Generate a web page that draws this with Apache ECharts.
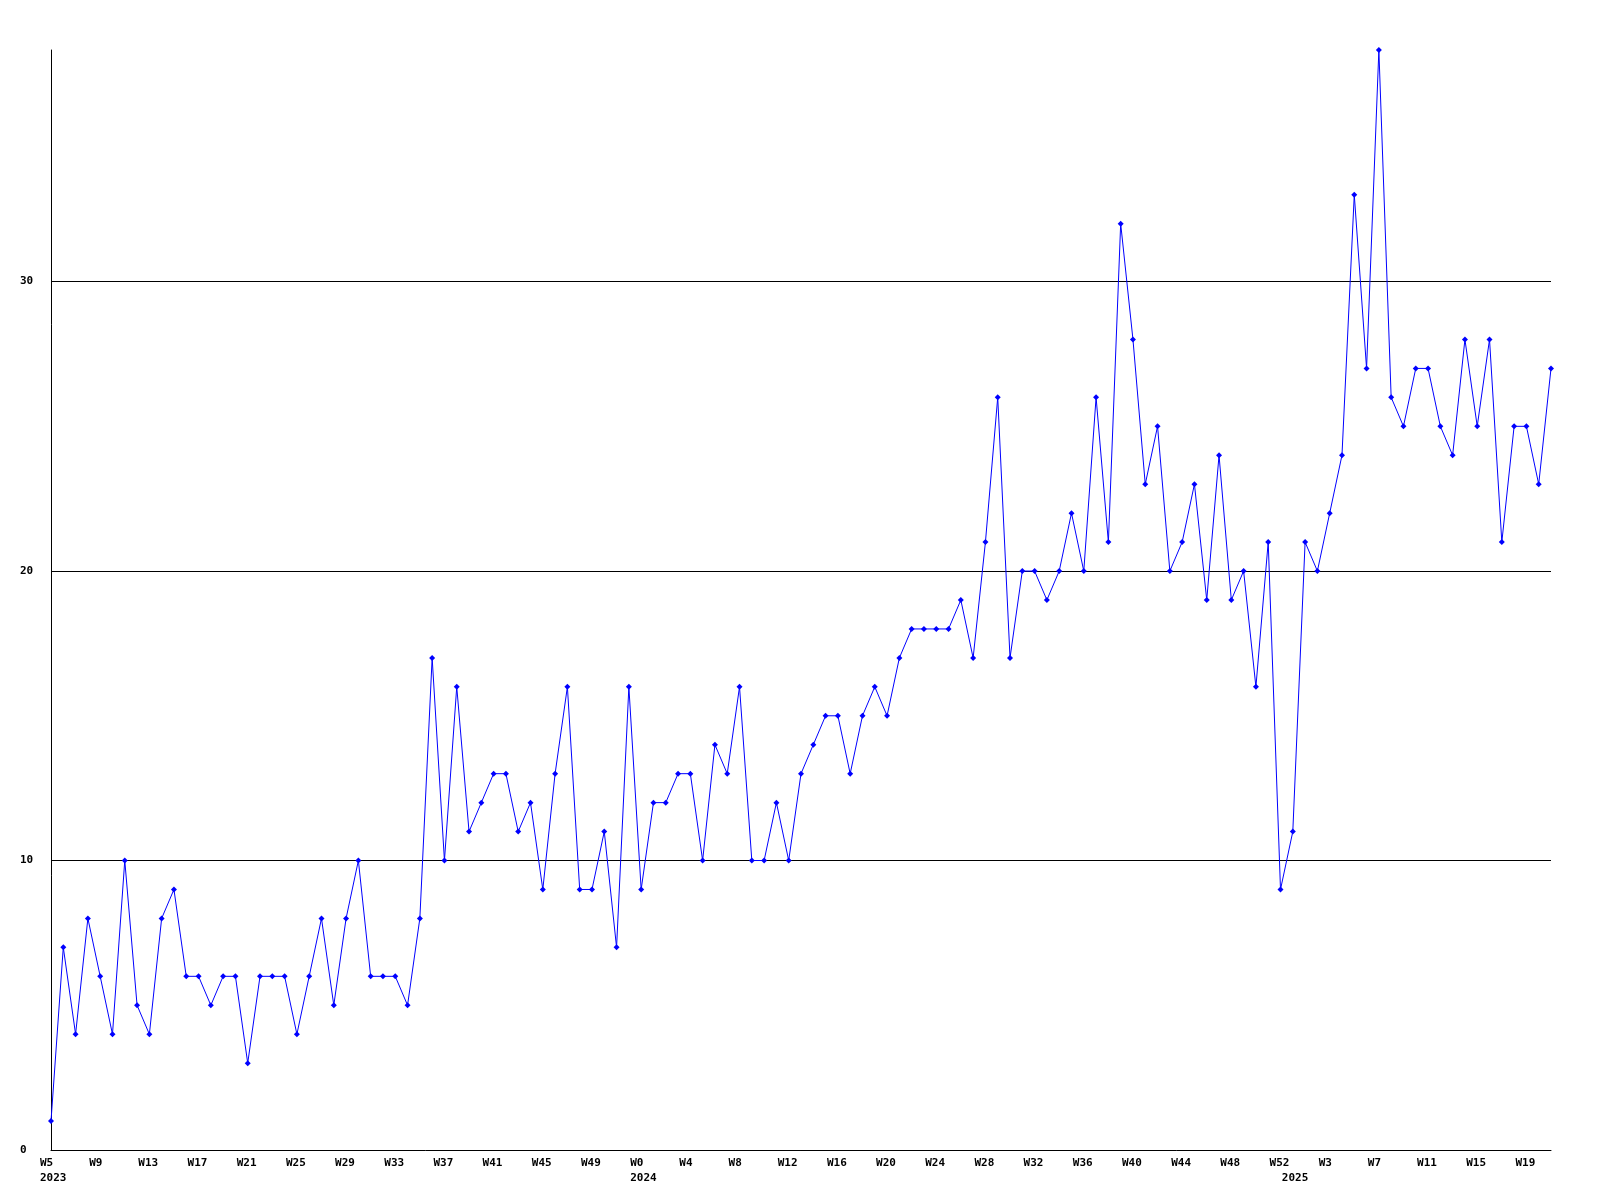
<!DOCTYPE html>
<html><head><meta charset="utf-8">
<script src="https://cdn.jsdelivr.net/npm/echarts@6/dist/echarts.min.js"></script>
<style>html,body{margin:0;padding:0;background:#fff}#c{width:1600px;height:1200px}</style>
</head><body><div id="c"></div>
<script>
const years = ['2023', '2024', '2025'];
const weeks2023 = ['W5','W6','W7','W8','W9','W10','W11','W12','W13','W14','W15','W16','W17','W18','W19','W20','W21','W22','W23','W24','W25','W26','W27','W28','W29','W30','W31','W32','W33','W34','W35','W36','W37','W38','W39','W40','W41','W42','W43','W44','W45','W46','W47','W48','W49','W50','W51','W52'];
const weeks2024 = ['W0','W1','W2','W3','W4','W5','W6','W7','W8','W9','W10','W11','W12','W13','W14','W15','W16','W17','W18','W19','W20','W21','W22','W23','W24','W25','W26','W27','W28','W29','W30','W31','W32','W33','W34','W35','W36','W37','W38','W39','W40','W41','W42','W43','W44','W45','W46','W47','W48','W49','W50','W51','W52'];
const weeks2025 = ['W0','W1','W2','W3','W4','W5','W6','W7','W8','W9','W10','W11','W12','W13','W14','W15','W16','W17','W18','W19','W20','W21'];
const values = [
  1,7,4,8,6,4,10,5,4,8,9,6,6,5,6,6,3,6,6,6,4,6,8,5,8,10,6,6,6,5,8,
  17,10,16,11,12,13,13,11,12,9,13,16,9,9,11,7,16,9,12,12,13,13,10,14,13,16,10,10,12,10,13,14,
  15,15,13,15,16,15,17,18,18,18,18,19,17,21,26,17,20,20,19,20,22,20,26,21,
  32,28,23,25,20,21,23,19,24,19,20,16,21,9,11,21,20,22,24,33,27,
  38,26,25,27,27,25,24,28,25,28,21,25,25,23,27
];
const yTicks = [0, 10, 20, 30];

const weekGroups = [weeks2023, weeks2024, weeks2025];
const weekOf = [];
const categories = [];
const yearStart = {};
weekGroups.forEach((g, gi) => {
  yearStart[weekOf.length] = years[gi];
  g.forEach(w => { weekOf.push(w); categories.push(years[gi] + ' ' + w); });
});

const FONT = 'DejaVu Sans Mono';
const chart = echarts.init(document.getElementById('c'), null, {renderer: 'canvas'});
chart.setOption({
  animation: false,
  backgroundColor: '#ffffff',
  grid: {left: 51, right: 49, top: 50, bottom: 50, containLabel: false},
  xAxis: [{
    type: 'category', data: categories, boundaryGap: false, position: 'bottom',
    axisLine: {show: true, lineStyle: {color: '#000', width: 1}},
    axisTick: {show: false},
    splitLine: {show: false},
    axisLabel: {
      interval: (i) => i % 4 === 0,
      formatter: (v, i) => weekOf[i],
      align: 'left', padding: [0, 0, 0, -11], margin: 8,
      color: '#000', fontFamily: FONT, fontWeight: 'bold', fontSize: 11
    }
  }, {
    type: 'category', data: categories, boundaryGap: false, position: 'bottom',
    axisLine: {show: false}, axisTick: {show: false}, splitLine: {show: false},
    axisLabel: {
      interval: (i) => yearStart[i] !== undefined,
      formatter: (v, i) => yearStart[i] || '',
      align: 'left', padding: [0, 0, 0, -11], margin: 23,
      color: '#000', fontFamily: FONT, fontWeight: 'bold', fontSize: 11
    }
  }],
  yAxis: {
    type: 'value', min: yTicks[0], max: 38, interval: 10,
    axisLine: {show: true, lineStyle: {color: '#000', width: 1}},
    axisTick: {show: false},
    axisLabel: {
      showMaxLabel: false, align: 'left', margin: 31,
      color: '#000', fontFamily: FONT, fontWeight: 'bold', fontSize: 11
    },
    splitLine: {show: true, showMinLine: false, showMaxLine: false, lineStyle: {color: '#000', width: 1}}
  },
  series: [{
    type: 'line', data: values, xAxisIndex: 0,
    symbol: 'diamond', symbolSize: 6, showSymbol: true,
    lineStyle: {color: '#0000ff', width: 1},
    itemStyle: {color: '#0000ff'},
    emphasis: {disabled: true}
  }]
});
</script>
</body></html>
